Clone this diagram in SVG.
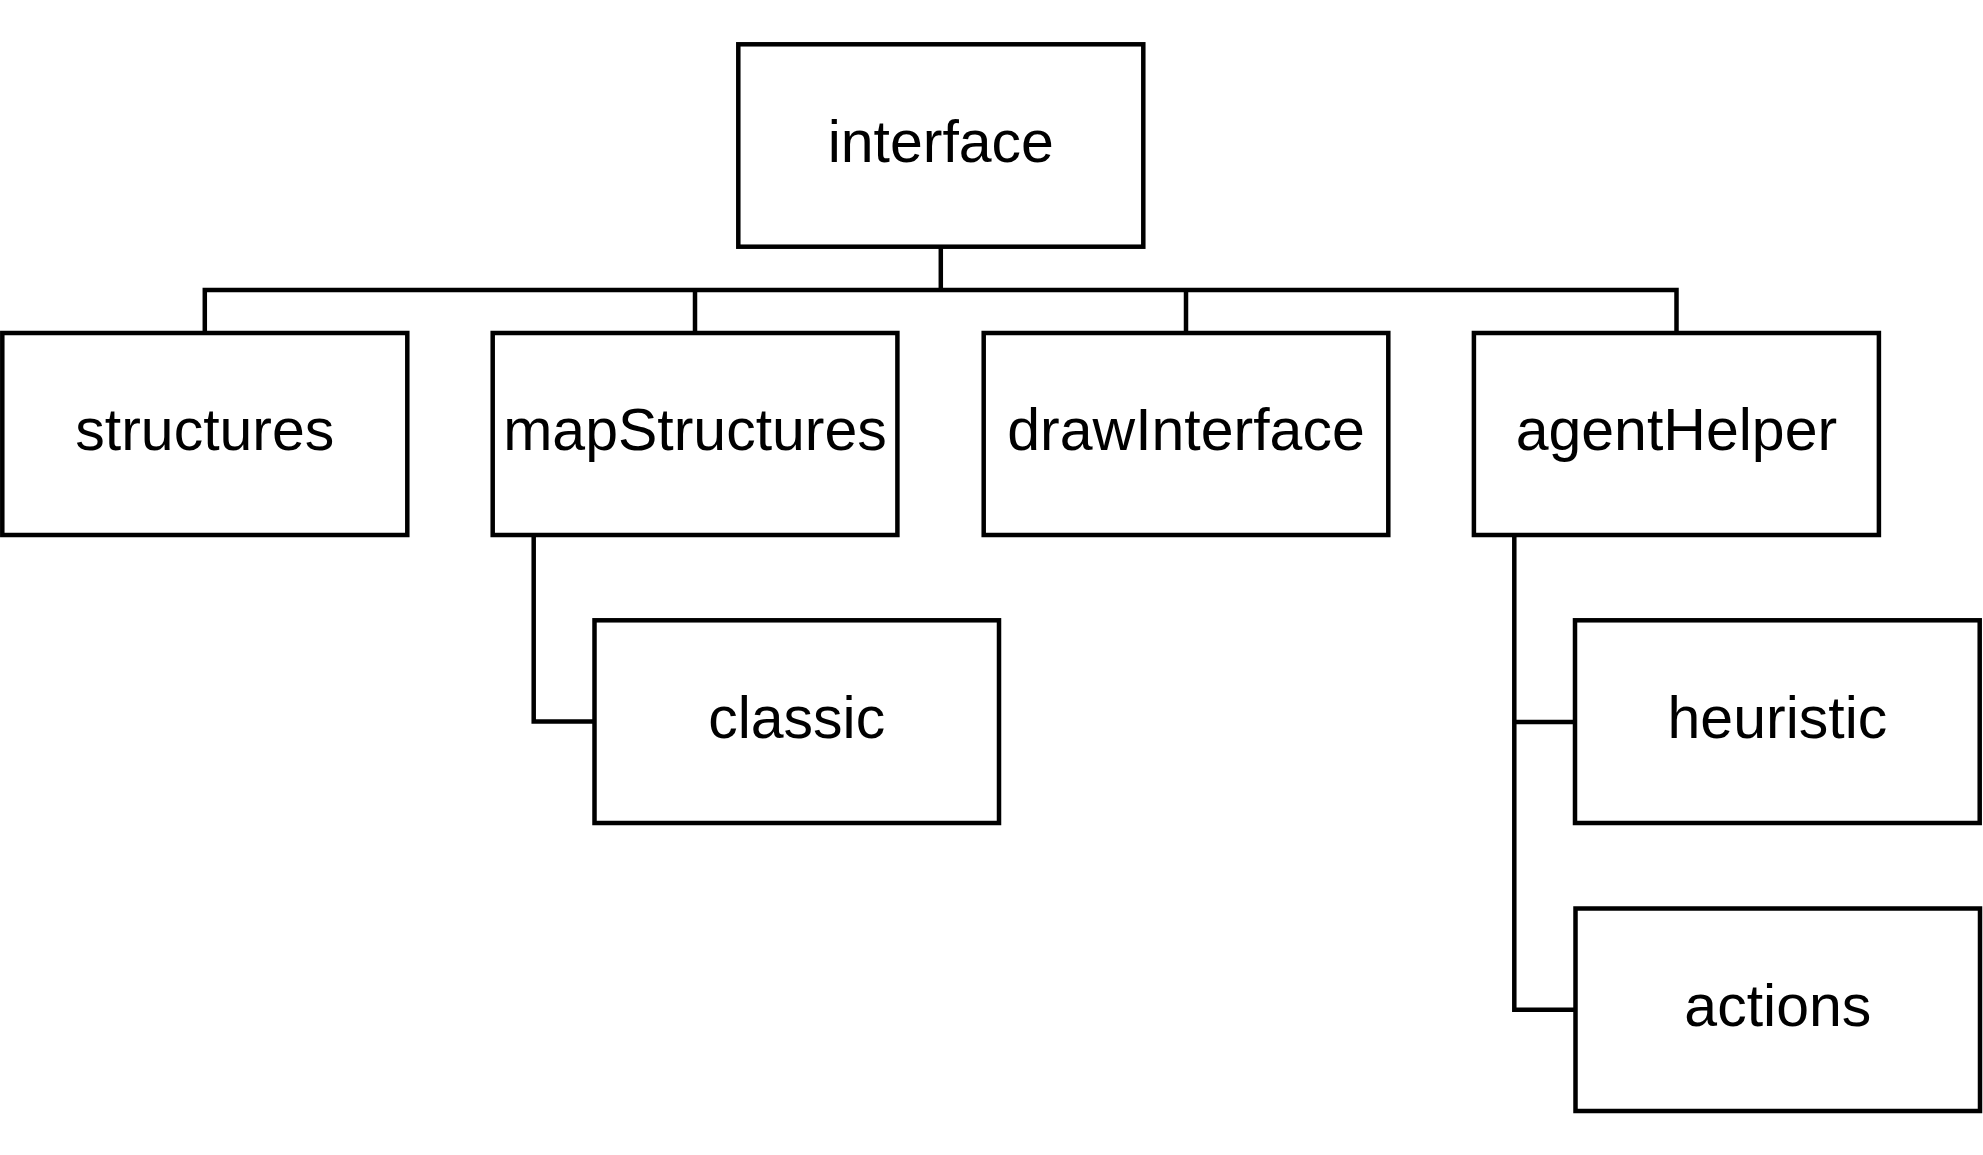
<svg xmlns="http://www.w3.org/2000/svg" width="1983" height="1155" viewBox="0 0 1983 1155">
  <style>
    .box { fill: #ffffff; stroke: #000000; stroke-width: 4.5; }
    .lbl { font-family: "Liberation Sans", Arial, sans-serif; font-size: 59px; fill: #000000; text-anchor: middle; }
    .conn { fill: none; stroke: #000000; stroke-width: 4.5; stroke-linejoin: miter; stroke-linecap: butt; }
  </style>
  <rect width="1983" height="1155" fill="#ffffff"/>
  <g id="connectors">
    <path class="conn" d="M940.8 246.7 V290"/>
    <path class="conn" d="M204.8 333 V290 H1676.5 V333"/>
    <path class="conn" d="M695 290 V333"/>
    <path class="conn" d="M1186 290 V333"/>
    <path class="conn" d="M533.7 535 V721.5 H594.5"/>
    <path class="conn" d="M1514.3 535 V1009.7 H1575.5"/>
    <path class="conn" d="M1514.3 722 H1575"/>
  </g>
  <g id="node-interface">
    <rect class="box" x="738.3" y="44.3" width="405" height="202.4"/>
    <text class="lbl" x="940.8" y="161.7">interface</text>
  </g>
  <g id="node-structures">
    <rect class="box" x="2.3" y="333" width="405" height="202"/>
    <text class="lbl" x="204.8" y="450">structures</text>
  </g>
  <g id="node-mapStructures">
    <rect class="box" x="492.7" y="333" width="404.7" height="202"/>
    <text class="lbl" x="695" y="450">mapStructures</text>
  </g>
  <g id="node-drawInterface">
    <rect class="box" x="983.7" y="333" width="404.6" height="202"/>
    <text class="lbl" x="1186" y="450">drawInterface</text>
  </g>
  <g id="node-agentHelper">
    <rect class="box" x="1473.9" y="333" width="405" height="202"/>
    <text class="lbl" x="1676.4" y="450">agentHelper</text>
  </g>
  <g id="node-classic">
    <rect class="box" x="594.5" y="620.3" width="404.5" height="202.7"/>
    <text class="lbl" x="796.7" y="737.7">classic</text>
  </g>
  <g id="node-heuristic">
    <rect class="box" x="1575" y="620.3" width="404.7" height="202.7"/>
    <text class="lbl" x="1777.4" y="737.7">heuristic</text>
  </g>
  <g id="node-actions">
    <rect class="box" x="1575.5" y="908.5" width="404.5" height="202.5"/>
    <text class="lbl" x="1777.8" y="1025.8">actions</text>
  </g>
</svg>
